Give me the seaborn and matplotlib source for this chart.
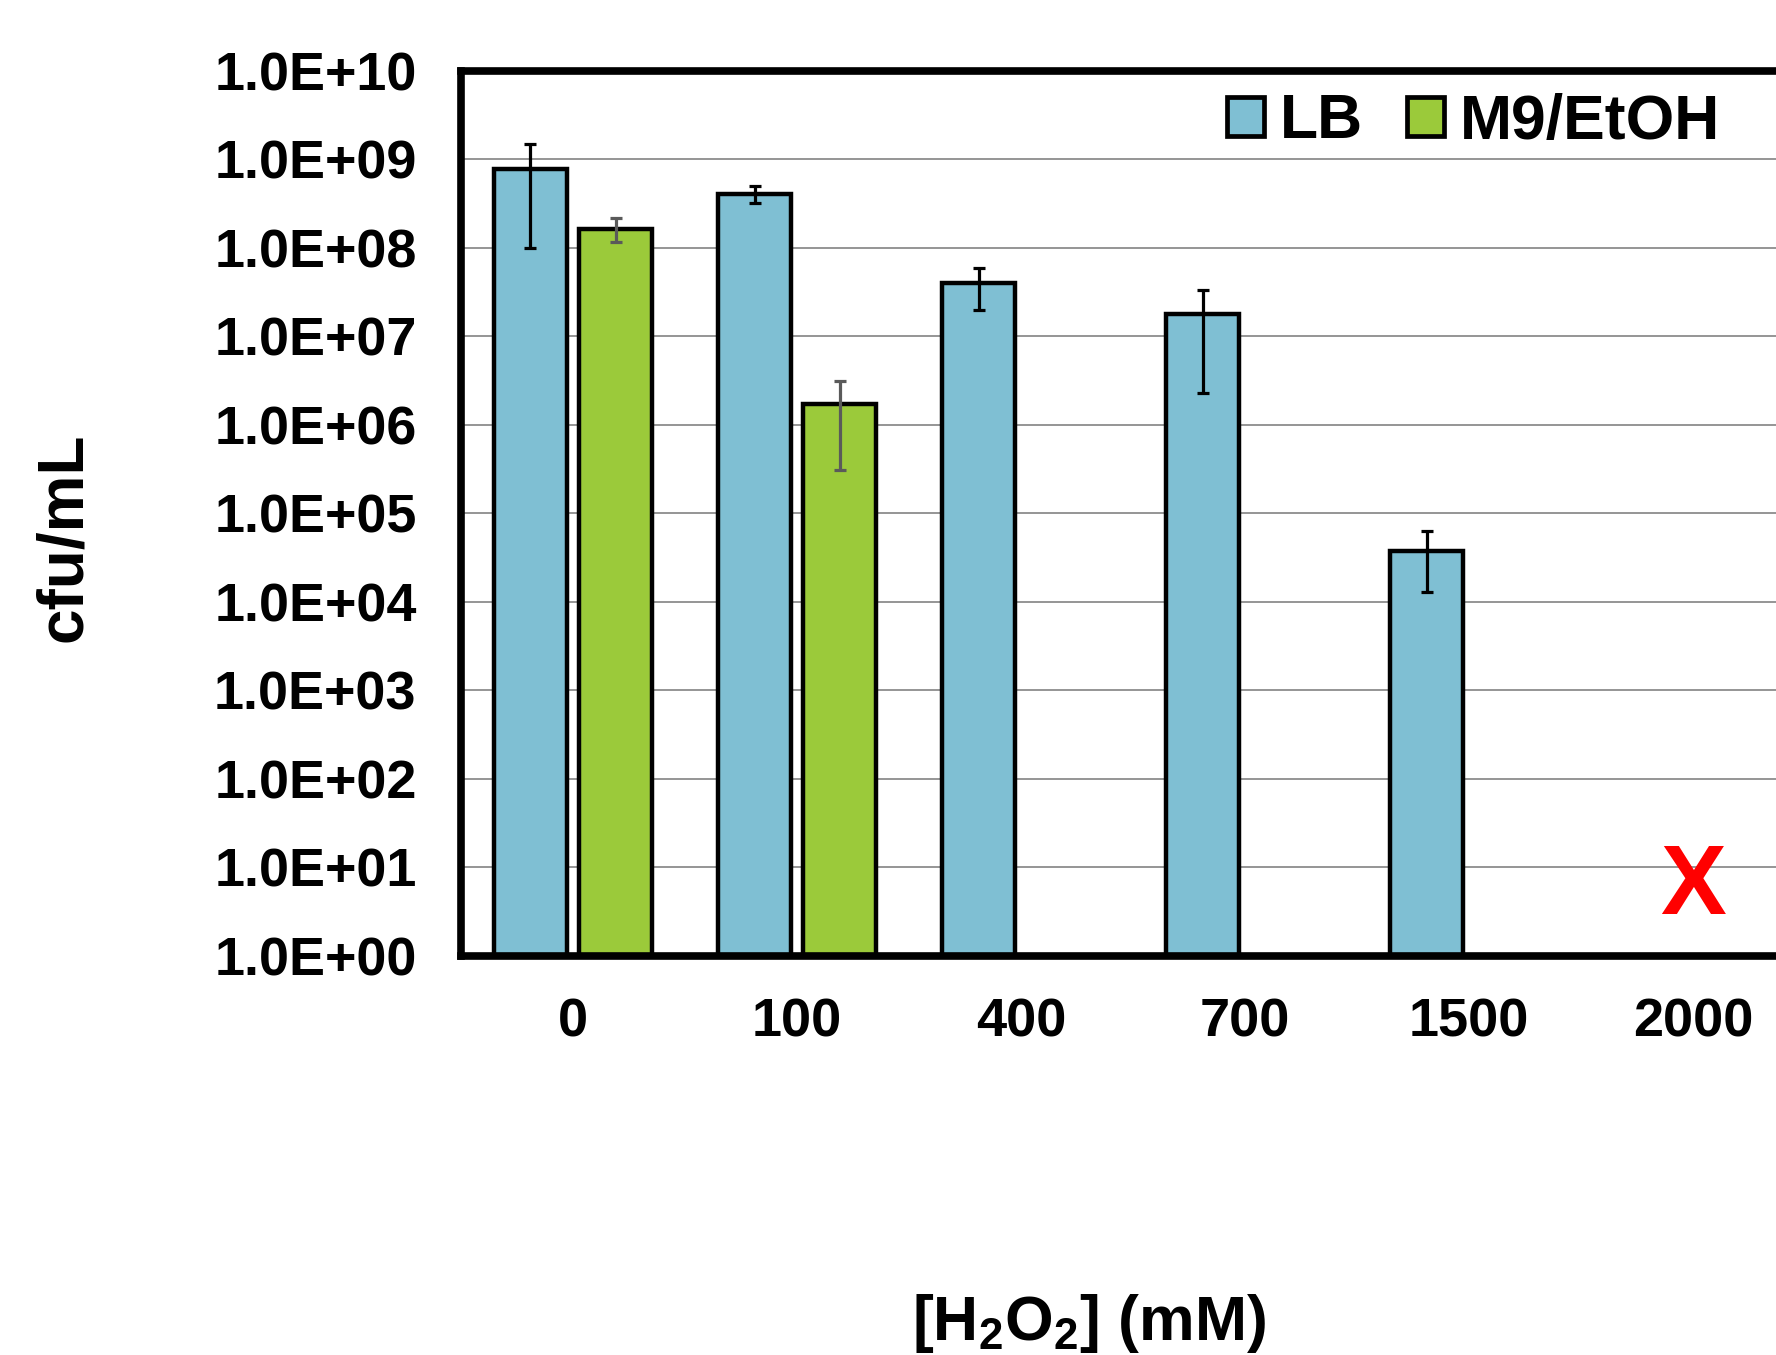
import numpy as np
import pandas as pd
import seaborn as sns
import matplotlib
matplotlib.use("Agg")
import matplotlib.pyplot as plt
from matplotlib.patches import Patch
from matplotlib.ticker import NullLocator

# H2O2 concentrations (mM)
concentrations = ["0", "100", "400", "700", "1500", "2000"]

# mean cfu/mL and error per medium (nan = nothing plotted)
lb_cfu = [7.9e8, 4.1e8, 4.0e7, 1.8e7, 3.8e4, np.nan]
lb_err = [6.9e8, 0.9e8, 2.0e7, 1.57e7, 2.5e4, np.nan]
m9_cfu = [1.66e8, 1.73e6, np.nan, np.nan, np.nan, np.nan]
m9_err = [5.0e7, 1.42e6, np.nan, np.nan, np.nan, np.nan]

media = ["LB", "M9/EtOH"]
palette = {"LB": "#7fbfd3", "M9/EtOH": "#9bca3a"}
err_colors = {"LB": "black", "M9/EtOH": "#5a5a5a"}

ytick_exps = list(range(11))
ytick_labels = ["1.0E+%02d" % k for k in ytick_exps]

# no survivors at this concentration
dead_conc = "2000"
dead_mark = "X"


rows = []
for medium, vals, errs in [("LB", lb_cfu, lb_err), ("M9/EtOH", m9_cfu, m9_err)]:
    for c, v, e in zip(concentrations, vals, errs):
        if not np.isnan(v):
            rows.append({"conc": c, "medium": medium, "cfu": v, "err": e})
df = pd.DataFrame(rows)

sns.set_style("white")
plt.rcParams["font.family"] = ["Liberation Sans", "DejaVu Sans"]
plt.rcParams["font.weight"] = "bold"
plt.rcParams["mathtext.default"] = "regular"
for key in ["text.color", "axes.labelcolor", "xtick.color", "ytick.color"]:
    plt.rcParams[key] = "black"

fig = plt.figure(figsize=(17.76, 13.55), dpi=100)
ax = fig.add_axes([0.2596, 0.2945, 0.7568, 0.6531])

sns.barplot(data=df, x="conc", y="cfu", hue="medium", order=concentrations,
            hue_order=media, palette=palette, width=0.76, gap=0.15,
            errorbar=None, edgecolor="black", linewidth=3.2, saturation=1,
            legend=False, ax=ax, zorder=2)

ax.set_yscale("log")
ax.set_ylim(1, 1e10)
ax.set_xlim(-0.5, len(concentrations) - 0.5)

# error bars on top of the drawn bars
for container, medium in zip(ax.containers, media):
    sub = df[df["medium"] == medium].set_index("conc")
    for bar in container:
        xc = bar.get_x() + bar.get_width() / 2
        conc = concentrations[int(round(xc))]
        ax.errorbar(xc, sub.loc[conc, "cfu"], yerr=sub.loc[conc, "err"], fmt="none",
                    ecolor=err_colors[medium], elinewidth=2.3, capsize=4.5,
                    capthick=2.3, zorder=3)

ax.text(concentrations.index(dead_conc), 3.0, dead_mark, color="red", fontsize=71,
        fontweight="bold", ha="center", va="baseline", zorder=4)

ax.set_yticks([10.0 ** k for k in ytick_exps])
ax.set_yticklabels(ytick_labels)
ax.yaxis.set_minor_locator(NullLocator())
ax.tick_params(axis="y", length=0, pad=32, labelsize=38.8, labelcolor="black")
ax.tick_params(axis="x", length=0, pad=30, labelsize=39, labelcolor="black")
for lab in ax.get_xticklabels() + ax.get_yticklabels():
    lab.set_fontweight("bold")

ax.set_axisbelow(True)
ax.yaxis.grid(True, color="#8c8c8c", linewidth=1.3)
ax.xaxis.grid(False)
for sp in ax.spines.values():
    sp.set_visible(True)
    sp.set_color("black")
    sp.set_linewidth(5.5)

ax.set_xlabel("")
ax.set_ylabel("")
fig.text(64 / 1776, 1 - 537 / 1355, "cfu/mL", rotation=90, ha="center", va="center",
         fontsize=46, fontweight="bold", color="black")
fig.text(1089 / 1776, 0.011, "[H$_2$O$_2$] (mM)", ha="center", va="baseline",
         fontsize=45, fontweight="bold", color="black")

handles = [Patch(facecolor=palette[m], edgecolor="black", linewidth=3.4, label=m) for m in media]
leg = ax.legend(handles=handles, loc="center right",
                bbox_to_anchor=(1720 / 1776, 1 - 122 / 1355),
                bbox_transform=fig.transFigure, ncol=2, frameon=False, fontsize=45,
                handlelength=0.6, handleheight=0.6, handletextpad=0.25,
                columnspacing=0.7, borderpad=0, borderaxespad=0)
for t in leg.get_texts():
    t.set_color("black")

fig.savefig("out.png", dpi=100)
